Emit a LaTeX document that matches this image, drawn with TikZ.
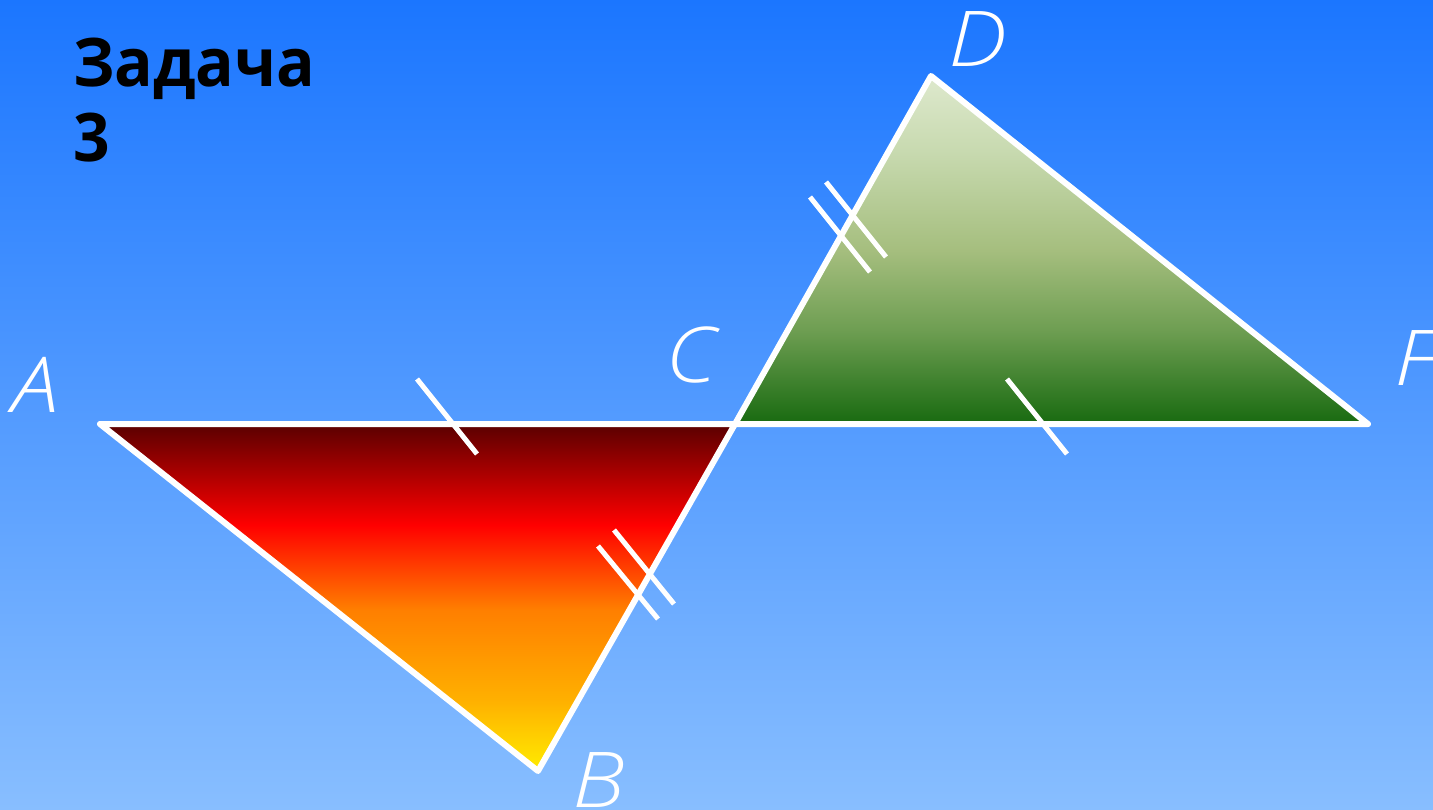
\documentclass[tikz,border=0pt]{standalone}
\usepackage{fontspec}
\setmainfont{Open Sans}
\newfontfamily\lblfont{Open Sans Light}[ItalicFont={Open Sans Light Italic}]
\definecolor{bgtop}{RGB}{27,118,255}
\definecolor{bgbot}{RGB}{136,190,255}
\definecolor{ry}{RGB}{255,236,0}
\definecolor{rb}{RGB}{255,176,0}
\definecolor{ro}{RGB}{255,127,0}
\definecolor{rr}{RGB}{255,0,0}
\definecolor{rd}{RGB}{90,0,0}
\definecolor{g1}{RGB}{24,106,16}
\definecolor{g2}{RGB}{110,158,82}
\definecolor{g3}{RGB}{165,190,126}
\definecolor{g4}{RGB}{200,218,176}
\definecolor{g5}{RGB}{221,232,204}
\pgfdeclareverticalshading{redgrad}{100bp}{color(0bp)=(ry); color(25bp)=(ry); color(35.2bp)=(rb); color(48.2bp)=(ro); color(60.4bp)=(rr); color(75bp)=(rd); color(100bp)=(rd)}
\pgfdeclareverticalshading{greengrad}{100bp}{color(0bp)=(g1); color(25bp)=(g1); color(38.5bp)=(g2); color(49.9bp)=(g3); color(64.3bp)=(g4); color(74.6bp)=(g5); color(100bp)=(g5)}
\tikzset{
  edge/.style={draw=white, line width=6pt, line join=round, line cap=round},
  tick/.style={draw=white, line width=5pt},
  vlabel/.style={text=white, font=\fontsize{77}{80}\selectfont\lblfont\itshape, anchor=base, inner sep=0pt, xscale=1.15},
  title/.style={text=black, font=\fontsize{67}{75}\selectfont\bfseries, anchor=base west, inner sep=0pt, xscale=0.956}
}
\begin{document}
\begin{tikzpicture}[x=1pt,y=-1pt]
\useasboundingbox (0,0) rectangle (1433,810);
\shade[top color=bgtop, bottom color=bgbot] (0,0) rectangle (1433,810);
% vertices
\coordinate (A) at (100,424);
\coordinate (C) at (735,424);
\coordinate (B) at (538,771);
\coordinate (D) at (931,76);
\coordinate (F) at (1368,424);
% triangles
\shade[shading=redgrad] (A) -- (C) -- (B) -- cycle;
\shade[shading=greengrad] (C) -- (D) -- (F) -- cycle;
\draw[edge] (A) -- (C) -- (B) -- cycle;
\draw[edge] (C) -- (D) -- (F) -- cycle;
% tick marks
\coordinate (t1a) at (417,379); \coordinate (t1b) at (477,454);
\coordinate (t2a) at (1007,379); \coordinate (t2b) at (1067,454);
\coordinate (t3a) at (598,546); \coordinate (t3b) at (658,619);
\coordinate (t4a) at (614,530); \coordinate (t4b) at (674,604);
\coordinate (t5a) at (810,197); \coordinate (t5b) at (870,272);
\coordinate (t6a) at (826,182); \coordinate (t6b) at (886,257);
\draw[tick] (t1a) -- (t1b);
\draw[tick] (t2a) -- (t2b);
\draw[tick] (t3a) -- (t3b);
\draw[tick] (t4a) -- (t4b);
\draw[tick] (t5a) -- (t5b);
\draw[tick] (t6a) -- (t6b);
% labels
\node[vlabel] (lA) at (35,413) {A};
\node[vlabel] (lC) at (691,383) {C};
\node[vlabel] (lB) at (598,807) {B};
\node[vlabel] (lD) at (978,67) {D};
\node[vlabel] (lF) at (1416,385) {F};
% title
\node[title] (t1) at (73,87) {Задача};
\node[title] (t2) at (73,162) {3};
\end{tikzpicture}
\end{document}
